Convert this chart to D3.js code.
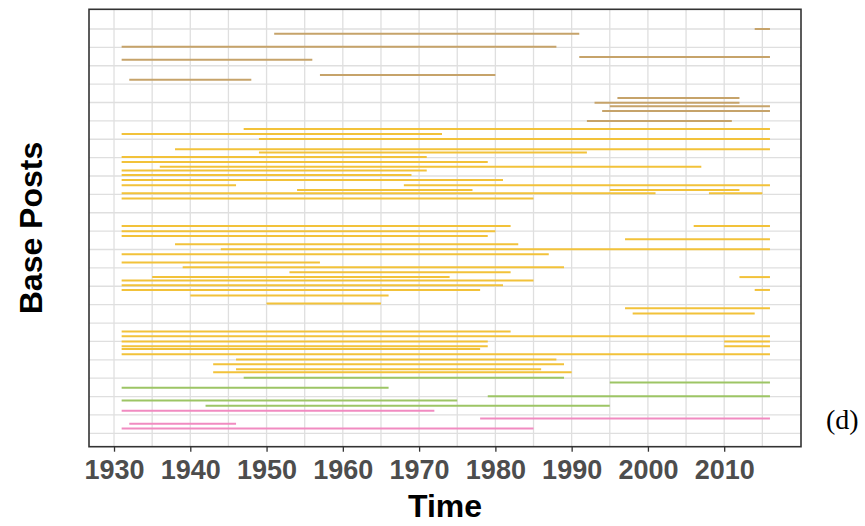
<!DOCTYPE html>
<html>
<head>
<meta charset="utf-8">
<script src="https://cdn.jsdelivr.net/npm/d3@7"></script>
<style>
  html, body { margin: 0; padding: 0; background: #fff; }
  svg { display: block; }
</style>
</head>
<body>
<svg id="chart" width="865" height="526"></svg>
<script>
// Service periods of base posts: [row position, first year, last year]
const groupTan = [
  [115.0, 2014, 2016], [113.7, 1951, 1991], [110.2, 1931, 1988],
  [107.4, 1991, 2016], [106.6, 1931, 1956], [102.5, 1957, 1980],
  [101.2, 1932, 1948], [96.2, 1996, 2012], [94.9, 1993, 2012],
  [94.0, 1995, 2016], [92.7, 1994, 2016], [90.0, 1992, 2011]
];
const groupGold = [
  [87.8, 1947, 2016], [86.4, 1931, 1973], [85.1, 1949, 2016],
  [82.3, 1938, 2016], [81.4, 1949, 1992], [80.2, 1931, 1971],
  [78.8, 1931, 1979], [77.5, 1936, 2007], [76.5, 1931, 1971],
  [75.3, 1931, 1969], [73.9, 1931, 1981], [72.5, 1931, 1946],
  [72.5, 1968, 2016], [71.2, 1954, 1977], [71.2, 1995, 2012],
  [70.3, 1931, 2001], [70.3, 2008, 2015], [68.9, 1931, 1985],
  [61.4, 1931, 1982], [61.4, 2006, 2016], [60.0, 1931, 1980],
  [58.7, 1931, 1979], [57.8, 1997, 2016], [56.4, 1938, 1983],
  [55.1, 1944, 2016], [53.7, 1931, 1987], [51.5, 1931, 1957],
  [50.2, 1939, 1989], [48.8, 1953, 1982], [47.5, 1935, 1974],
  [47.5, 2012, 2016], [46.6, 1931, 1985], [45.3, 1931, 1981],
  [44.0, 1931, 1978], [44.0, 2014, 2016], [42.5, 1940, 1966],
  [40.3, 1950, 1965], [39.0, 1997, 2016], [37.6, 1998, 2014],
  [32.7, 1931, 1982], [31.4, 1931, 2016], [30.0, 1931, 1979],
  [30.0, 2010, 2016], [28.7, 1931, 1979], [28.7, 2010, 2016],
  [27.9, 1931, 1978], [26.5, 1931, 2016], [25.1, 1946, 1988],
  [23.8, 1943, 1989], [22.4, 1946, 1986], [21.6, 1943, 1990]
];
const groupGreen = [
  [20.1, 1947, 1989], [18.8, 1995, 2016], [17.4, 1931, 1966],
  [15.1, 1979, 2016], [13.9, 1931, 1975], [12.5, 1942, 1995]
];
const groupPink = [
  [11.1, 1931, 1972], [9.0, 1978, 2016], [7.6, 1932, 1946],
  [6.3, 1931, 1985]
];

const groupNames = ["tan", "gold", "green", "pink"];
const groupColours = ["#C6A36A", "#F2C23A", "#9DC565", "#F18BC1"];
const groupData = [groupTan, groupGold, groupGreen, groupPink];

const yearTicks = [1930, 1940, 1950, 1960, 1970, 1980, 1990, 2000, 2010];
const yearGrid = d3.range(1930, 2016, 5);
const rowGrid = d3.range(5, 116, 5);

const svg = d3.select("#chart");
const panel = { left: 89, right: 801, top: 9.3, bottom: 446.7 };

const x = d3.scaleLinear().domain([1926.72, 2020.07]).range([panel.left, panel.right]);
const y = d3.scaleLinear().domain([1.35, 120.36]).range([panel.bottom, panel.top]);

const colour = d3.scaleOrdinal().domain(groupNames).range(groupColours);

// background grid
const grid = svg.append("g").attr("stroke", "#DFDFDF").attr("stroke-width", 1.3);
grid.selectAll("line.v").data(yearGrid).join("line")
  .attr("class", "v")
  .attr("x1", d => x(d)).attr("x2", d => x(d))
  .attr("y1", panel.top).attr("y2", panel.bottom);
grid.selectAll("line.h").data(rowGrid).join("line")
  .attr("class", "h")
  .attr("x1", panel.left).attr("x2", panel.right)
  .attr("y1", d => y(d)).attr("y2", d => y(d));

// segments
const segments = groupData.flatMap((rows, i) =>
  rows.map(([row, start, end]) => ({ group: groupNames[i], row, start, end })));

svg.append("g").selectAll("line").data(segments).join("line")
  .attr("x1", d => x(d.start)).attr("x2", d => x(d.end))
  .attr("y1", d => y(d.row)).attr("y2", d => y(d.row))
  .attr("stroke", d => colour(d.group))
  .attr("stroke-width", 2);

// panel border
svg.append("rect")
  .attr("x", panel.left).attr("y", panel.top)
  .attr("width", panel.right - panel.left).attr("height", panel.bottom - panel.top)
  .attr("fill", "none").attr("stroke", "#333").attr("stroke-width", 1.6);

// x axis
const xAxis = d3.axisBottom(x).tickValues(yearTicks).tickFormat(d3.format("d"))
  .tickSize(5).tickPadding(4);
const gx = svg.append("g").attr("transform", `translate(0,${panel.bottom})`).call(xAxis);
gx.select(".domain").remove();
gx.selectAll(".tick line").attr("stroke", "#333").attr("stroke-width", 1.3);
gx.selectAll(".tick text")
  .attr("fill", "#4D4D4D")
  .attr("font-family", "Liberation Sans, Arial, sans-serif")
  .attr("font-weight", "bold")
  .attr("font-size", 27)
  .attr("dy", "0.88em");

// axis titles
svg.append("text")
  .attr("x", (panel.left + panel.right) / 2).attr("y", 517)
  .attr("text-anchor", "middle")
  .attr("font-family", "Liberation Sans, Arial, sans-serif")
  .attr("font-weight", "bold").attr("font-size", 32)
  .attr("fill", "#000")
  .text("Time");

svg.append("text")
  .attr("transform", `translate(42,${(panel.top + panel.bottom) / 2}) rotate(-90)`)
  .attr("text-anchor", "middle")
  .attr("font-family", "Liberation Sans, Arial, sans-serif")
  .attr("font-weight", "bold").attr("font-size", 32)
  .attr("fill", "#000")
  .text("Base Posts");

// panel tag
svg.append("text")
  .attr("x", 826).attr("y", 429)
  .attr("font-family", "Liberation Serif, Times New Roman, serif")
  .attr("font-size", 28)
  .attr("fill", "#000")
  .text("(d)");
</script>
</body>
</html>
